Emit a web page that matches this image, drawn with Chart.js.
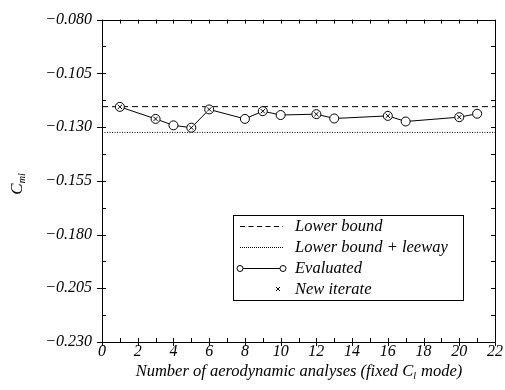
<!DOCTYPE html>
<html>
<head>
<meta charset="utf-8">
<script src="https://cdn.jsdelivr.net/npm/chart.js@4.4.1/dist/chart.umd.min.js"></script>
<style>
  html, body { margin: 0; padding: 0; background: #fff; }
  #wrap { width: 505px; height: 390px; }
</style>
</head>
<body>
<div id="wrap"><canvas id="chart"></canvas></div>
<script>
// data
const iterations = [1, 3, 4, 5, 6, 8, 9, 10, 12, 13, 16, 17, 20, 21];
const cmlValues = [-0.1206, -0.1262, -0.1292, -0.1303, -0.1218, -0.1262, -0.1226, -0.1244,
                   -0.1240, -0.1260, -0.1248, -0.1274, -0.1254, -0.1238];
const newIterates = [1, 3, 5, 6, 9, 12, 16, 20];
const lowerBound = -0.1205;
const lowerBoundLeeway = -0.1325;
const xRange = [0, 22];
const yRange = [-0.230, -0.080];

const FONT = "'Liberation Serif', 'Times New Roman', serif";

const evaluated = iterations.map((x, i) => ({ x: x, y: cmlValues[i] }));
const iterPts = newIterates.map(x => ({ x: x, y: cmlValues[iterations.indexOf(x)] }));
const hline = v => xRange.map(x => ({ x: x, y: v }));

const minus = v => v.toFixed(3).replace('-', '\u2212');

// ticks, frame, axis titles and boxed legend, all placed through the scales
const framePlugin = {
  id: 'frame',
  afterDatasetsDraw(chart) {
    const ctx = chart.ctx;
    const a = chart.chartArea;
    const xs = chart.scales.x, ys = chart.scales.y;
    ctx.save();
    ctx.strokeStyle = '#000';
    ctx.lineWidth = 1;
    ctx.strokeRect(Math.round(a.left) + 0.5, Math.round(a.top) + 0.5,
                   Math.round(a.right - a.left), Math.round(a.bottom - a.top));
    ctx.beginPath();
    // x ticks every 1, labelled every 2
    for (let v = xRange[0]; v <= xRange[1]; v++) {
      const px = Math.round(xs.getPixelForValue(v)) + 0.5;
      const major = v % 2 === 0;
      ctx.moveTo(px, a.bottom + (major ? 4 : 0));
      ctx.lineTo(px, a.bottom - 4);
      ctx.moveTo(px, a.top);
      ctx.lineTo(px, a.top + 4);
    }
    // y ticks every 0.0125, labelled every 0.025
    for (let k = 0; k <= 12; k++) {
      const v = yRange[0] + k * 0.0125;
      const py = Math.round(ys.getPixelForValue(v)) + 0.5;
      const major = k % 2 === 0;
      ctx.moveTo(a.left - (major ? 5 : 0), py);
      ctx.lineTo(a.left + 4, py);
      ctx.moveTo(a.right, py);
      ctx.lineTo(a.right - 4, py);
    }
    ctx.stroke();

    ctx.fillStyle = '#000';
    ctx.textBaseline = 'alphabetic';
    // x title with subscript
    const t1 = 'Number of aerodynamic analyses (fixed C', t2 = 'l', t3 = ' mode)';
    ctx.font = 'italic 16.5px ' + FONT;
    const w1 = ctx.measureText(t1).width, w3 = ctx.measureText(t3).width;
    ctx.font = 'italic 10px ' + FONT;
    const w2 = ctx.measureText(t2).width;
    let x0 = (a.left + a.right) / 2 - (w1 + w2 + w3) / 2;
    const by = 376;
    ctx.font = 'italic 16.5px ' + FONT;
    ctx.fillText(t1, x0, by);
    ctx.font = 'italic 10px ' + FONT;
    ctx.fillText(t2, x0 + w1, by + 3);
    ctx.font = 'italic 16.5px ' + FONT;
    ctx.fillText(t3, x0 + w1 + w2 + 1, by);

    // y title C_ml, rotated
    ctx.save();
    ctx.translate(22, 184);
    ctx.rotate(-Math.PI / 2);
    ctx.font = 'italic 17px ' + FONT;
    const cw = ctx.measureText('C').width;
    ctx.font = 'italic 10px ' + FONT;
    const sw = ctx.measureText('ml').width;
    const sx = -(cw + sw) / 2;
    ctx.font = 'italic 17px ' + FONT;
    ctx.fillText('C', sx, 0);
    ctx.font = 'italic 10px ' + FONT;
    ctx.fillText('ml', sx + cw, 3);
    ctx.restore();

    // legend box
    const lx = 233, ly = 215, lw = 230, lh = 85;
    ctx.strokeRect(lx + 0.5, ly + 0.5, lw, lh);
    const rows = [226, 247, 268, 289];
    const s0 = 240, s1 = 283, tx = 295;
    const ds = chart.data.datasets;
    ctx.font = 'italic 16.5px ' + FONT;
    ctx.textBaseline = 'middle';
    // dashed
    ctx.beginPath();
    ctx.setLineDash([5, 3.5]);
    ctx.moveTo(s0, rows[0] + 0.5); ctx.lineTo(s1, rows[0] + 0.5);
    ctx.stroke();
    // dotted
    ctx.beginPath();
    ctx.setLineDash([1, 1]);
    ctx.moveTo(s0, rows[1] + 0.5); ctx.lineTo(s1, rows[1] + 0.5);
    ctx.stroke();
    ctx.setLineDash([]);
    // circle - line - circle
    ctx.beginPath();
    ctx.moveTo(s0 + 3, rows[2] + 0.5); ctx.lineTo(s1 - 3, rows[2] + 0.5);
    ctx.stroke();
    [s0, s1].forEach(cx => {
      ctx.beginPath();
      ctx.arc(cx, rows[2] + 0.5, 3, 0, Math.PI * 2);
      ctx.fillStyle = '#fff'; ctx.fill(); ctx.stroke();
    });
    ctx.fillStyle = '#000';
    // small x
    ctx.beginPath();
    ctx.moveTo(s1 - 5 - 2, rows[3] - 2); ctx.lineTo(s1 - 5 + 2, rows[3] + 2);
    ctx.moveTo(s1 - 5 + 2, rows[3] - 2); ctx.lineTo(s1 - 5 - 2, rows[3] + 2);
    ctx.stroke();
    ds.forEach((d, i) => ctx.fillText(d.label, tx, rows[i] + 1));
    ctx.restore();
  }
};

new Chart(document.getElementById('chart'), {
  type: 'scatter',
  data: {
    datasets: [
      { label: 'Lower bound', data: hline(lowerBound), showLine: true, borderColor: '#000',
        borderWidth: 1, borderDash: [6, 4], pointRadius: 0, order: 3 },
      { label: 'Lower bound + leeway', data: hline(lowerBoundLeeway), showLine: true, borderColor: '#000',
        borderWidth: 1, borderDash: [1, 1.5], pointRadius: 0, order: 2 },
      { label: 'Evaluated', data: evaluated, showLine: true, borderColor: '#000', borderWidth: 1,
        pointRadius: 4.5, pointBackgroundColor: '#fff', pointBorderColor: '#000',
        pointBorderWidth: 1, tension: 0, order: 1 },
      { label: 'New iterate', data: iterPts, showLine: false, pointStyle: 'crossRot',
        pointRadius: 3, pointBorderColor: '#000', pointBorderWidth: 1, order: 0 }
    ]
  },
  options: {
    responsive: true,
    maintainAspectRatio: false,
    animation: false,
    layout: { padding: { top: 18, right: 10, left: 0, bottom: 0 } },
    plugins: { legend: { display: false }, tooltip: { enabled: false } },
    scales: {
      x: {
        type: 'linear', min: xRange[0], max: xRange[1],
        grid: { display: false, drawTicks: false }, border: { display: false },
        ticks: { stepSize: 2, padding: 0, color: '#000', maxRotation: 0,
                 font: { family: FONT, style: 'italic', size: 16 } },
        afterFit: s => { s.height = 48; }
      },
      y: {
        min: yRange[0], max: yRange[1],
        grid: { display: false, drawTicks: false }, border: { display: false },
        ticks: { stepSize: 0.025, padding: 10, color: '#000',
                 font: { family: FONT, style: 'italic', size: 16 },
                 callback: v => minus(v) },
        afterFit: s => { s.height; s.width = 102; }
      }
    }
  },
  plugins: [framePlugin]
});
</script>
</body>
</html>
